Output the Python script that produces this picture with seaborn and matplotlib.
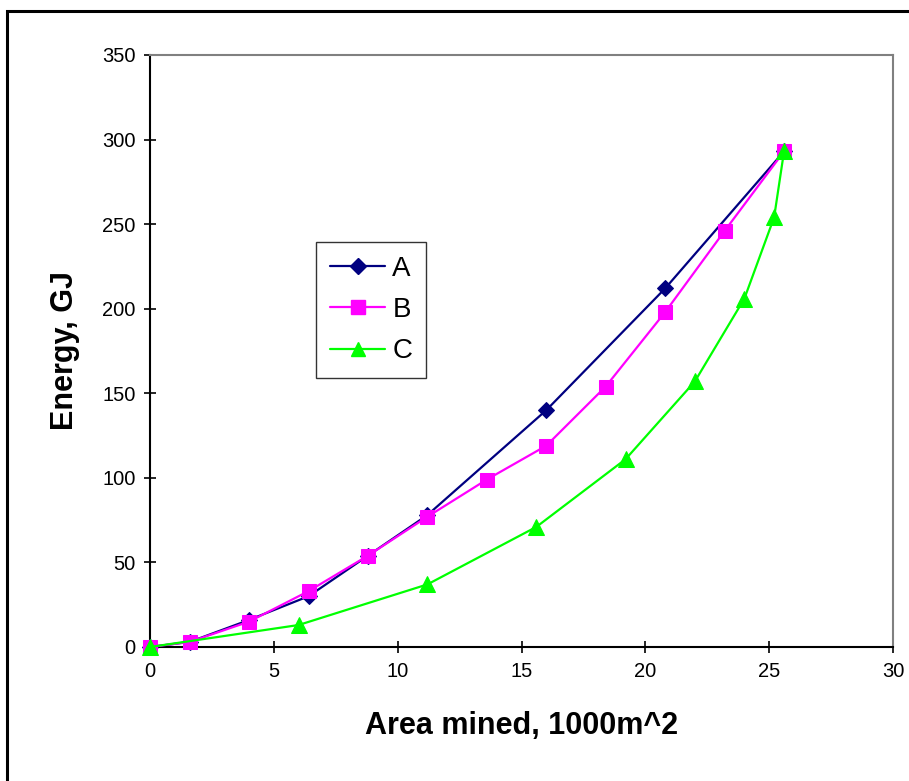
import matplotlib
matplotlib.use("Agg")
import matplotlib.pyplot as plt
import seaborn as sns
import pandas as pd
from matplotlib.patches import Rectangle
from matplotlib.lines import Line2D

# ---- data ----
a_x = [0, 1.6, 4.0, 6.4, 8.8, 11.2, 16.0, 20.8, 25.6]
a_y = [0, 3, 16, 30, 54, 78, 140, 212, 293]
b_x = [0, 1.6, 4.0, 6.4, 8.8, 11.2, 13.6, 16.0, 18.4, 20.8, 23.2, 25.6]
b_y = [0, 3, 15, 33, 54, 77, 99, 119, 154, 198, 246, 293]
c_x = [0, 6.0, 11.2, 15.6, 19.2, 22.0, 24.0, 25.2, 25.6]
c_y = [0, 13, 37, 71, 111, 157, 206, 254, 293]
series_names = ["A", "B", "C"]
x_ticks = [0, 5, 10, 15, 20, 25, 30]
y_ticks = [0, 50, 100, 150, 200, 250, 300, 350]

sns.set_theme(style="white")
plt.rcParams['font.family'] = ['Liberation Sans', 'DejaVu Sans']
plt.rcParams['text.color'] = 'black'
plt.rcParams['axes.labelcolor'] = 'black'
plt.rcParams['xtick.color'] = 'black'
plt.rcParams['ytick.color'] = 'black'

W, H = 909, 781
fig = plt.figure(figsize=(W / 100, H / 100), dpi=100)
ax = fig.add_axes([150 / W, 1 - 647 / H, (893 - 150) / W, (647 - 55) / H])

styles = {
    "A": dict(color="#000080", marker="D", markersize=8.5),
    "B": dict(color="#FF00FF", marker="s", markersize=10.5),
    "C": dict(color="#00FF00", marker="^", markersize=11),
}
data = {"A": (a_x, a_y), "B": (b_x, b_y), "C": (c_x, c_y)}

for name in series_names:
    xs, ys = data[name]
    df = pd.DataFrame({"x": xs, "y": ys})
    st = styles[name]
    sns.lineplot(data=df, x="x", y="y", ax=ax, sort=False, color=st["color"],
                 marker=st["marker"], markersize=st["markersize"],
                 markeredgecolor=st["color"], markerfacecolor=st["color"],
                 linewidth=1.6, clip_on=False, zorder=3)

ax.set_xlim(0, 30)
ax.set_ylim(0, 350)
ax.set_xticks(x_ticks)
ax.set_yticks(y_ticks)
ax.set_xticklabels([str(t) for t in x_ticks], fontsize=14.5)
ax.set_yticklabels([str(t) for t in y_ticks], fontsize=14.5)
ax.tick_params(axis="both", direction="inout", length=9, width=1.2,
               color="black", labelcolor="black", pad=6, bottom=True, left=True)

for side in ["left", "bottom"]:
    ax.spines[side].set_color("black")
    ax.spines[side].set_linewidth(1.5)
for side in ["top", "right"]:
    ax.spines[side].set_color("#808080")
    ax.spines[side].set_linewidth(1.5)
    ax.spines[side].set_visible(True)

ax.set_xlabel("Area mined, 1000m^2", fontsize=22, fontweight="bold", labelpad=22,
              color="black")
ax.set_ylabel("Energy, GJ", fontsize=22, fontweight="bold", labelpad=16, color="black")
ax.grid(False)

handles = [Line2D([0], [0], color=styles[n]["color"], marker=styles[n]["marker"],
                  markersize=styles[n]["markersize"] * 0.9, linewidth=1.6)
           for n in series_names]
leg = ax.legend(handles, series_names, loc="upper left",
                bbox_to_anchor=(316 / W, 1 - 242 / H), bbox_transform=fig.transFigure,
                borderaxespad=0, fontsize=20, frameon=True, fancybox=False,
                handlelength=2.0, handletextpad=0.25, labelspacing=0.55,
                borderpad=0.5)
leg.get_frame().set_edgecolor("black")
leg.get_frame().set_linewidth(1.0)
for t in leg.get_texts():
    t.set_color("black")

# outer chart border (left and top visible)
fig.patches.append(Rectangle((7 / W, -0.5), 2.0, 1.5 - 11 / H, transform=fig.transFigure,
                             fill=False, edgecolor="black", linewidth=2.2))

fig.savefig("out.png", dpi=100)
